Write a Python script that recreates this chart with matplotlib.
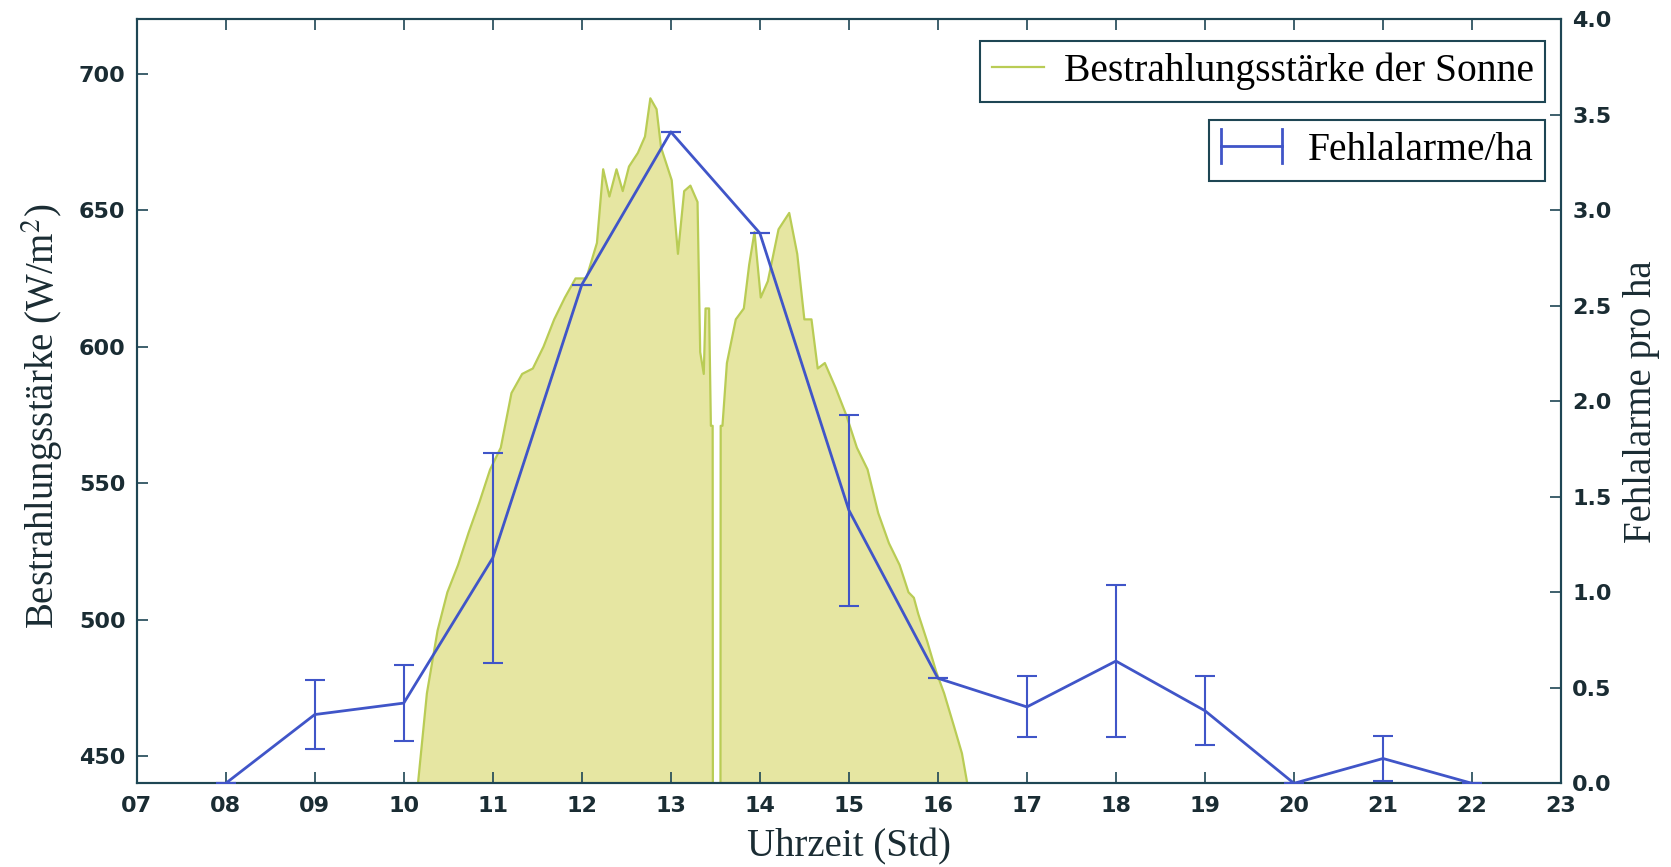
import matplotlib
matplotlib.use("Agg")
import matplotlib.pyplot as plt
from matplotlib.lines import Line2D
from matplotlib.legend_handler import HandlerBase

# Solar irradiance trace (hour of day, W/m^2)
irr_hours = [10.16, 10.26, 10.38, 10.49, 10.61, 10.73, 10.85, 10.97, 11.09, 11.21,
             11.33, 11.45, 11.57, 11.69, 11.81, 11.93, 12.05, 12.17, 12.24, 12.31,
             12.39, 12.46, 12.53, 12.63, 12.71, 12.77, 12.84, 12.89, 13.01, 13.08,
             13.15, 13.22, 13.30, 13.33, 13.37, 13.39, 13.43, 13.45, 13.47, 13.48,
             13.55, 13.56, 13.58, 13.63, 13.73, 13.82, 13.88, 13.94, 14.01, 14.09,
             14.21, 14.33, 14.42, 14.50, 14.58, 14.65, 14.73, 14.85, 14.97, 15.09,
             15.21, 15.33, 15.45, 15.57, 15.67, 15.73, 15.78, 15.88, 15.98, 16.07,
             16.18, 16.27, 16.33]
irr_values = [440, 473, 496, 510, 520, 532, 543, 555, 563, 583,
              590, 592, 600, 610, 618, 625, 625, 638, 665, 655,
              665, 657, 666, 671, 677, 691, 687, 673, 661, 634,
              657, 659, 653, 598, 590, 614, 614, 571, 571, 0,
              0, 571, 571, 594, 610, 614, 630, 642, 618, 624,
              643, 649, 634, 610, 610, 592, 594, 585, 575, 563,
              555, 539, 528, 520, 510, 508, 502, 492, 481, 473,
              461, 451, 440]

# False alarms per hectare, hourly mean and spread
alarm_hours = [8, 9, 10, 11, 12, 13, 14, 15, 16, 17, 18, 19, 20, 21, 22]
alarm_mean = [0.0, 0.36, 0.42, 1.18, 2.61, 3.41, 2.88, 1.43, 0.55, 0.40, 0.64, 0.38, 0.0, 0.13, 0.0]
alarm_err = [0.0, 0.18, 0.20, 0.55, 0.0, 0.0, 0.0, 0.50, 0.0, 0.16, 0.40, 0.18, 0.0, 0.12, 0.0]

x_ticks = list(range(7, 24))
x_labels = [f"{h:02d}" for h in x_ticks]
left_ticks = [450, 500, 550, 600, 650, 700]
right_ticks = [0.0, 0.5, 1.0, 1.5, 2.0, 2.5, 3.0, 3.5, 4.0]

plt.rcParams["mathtext.fontset"] = "stix"
spine_col = "#1e4654"
text_col = "#1a2c33"
fill_col = "#e6e6a2"
edge_col = "#b9cc55"
line_col = "#4055c8"
serif = ["Liberation Serif", "DejaVu Serif"]


class HandlerCappedLine(HandlerBase):
    """Legend key: horizontal line closed by vertical caps at both ends."""

    def create_artists(self, legend, orig_handle, xdescent, ydescent, width,
                       height, fontsize, trans):
        y = height / 2 - ydescent
        x0, x1 = -xdescent, width - xdescent
        half = 0.42 * fontsize
        kw = dict(color=orig_handle.get_color(), linewidth=2, transform=trans)
        return [Line2D([x0, x1], [y, y], **kw),
                Line2D([x0, x0], [y - half, y + half], **kw),
                Line2D([x1, x1], [y - half, y + half], **kw)]


fig = plt.figure(figsize=(16.71, 8.67), dpi=100)
ax = fig.add_axes([0.0818, 0.0965, 0.8524, 0.8814])
ax2 = ax.twinx()

ax.fill_between(irr_hours, irr_values, 0, facecolor=fill_col, edgecolor=edge_col,
                linewidth=1.6, zorder=1)
ax.set_xlim(7, 23)
ax.set_ylim(440, 720)
ax.set_xticks(x_ticks)
ax.set_xticklabels(x_labels)
ax.set_yticks(left_ticks)

ax2.errorbar(alarm_hours, alarm_mean, yerr=alarm_err, color=line_col, linewidth=2,
             elinewidth=1.5, capsize=7, capthick=1.5, zorder=3)
ax2.set_ylim(0, 4.0)
ax2.set_yticks(right_ticks)
ax2.set_yticklabels([f"{v:.1f}" for v in right_ticks])

for a in (ax, ax2):
    for s in a.spines.values():
        s.set_color(spine_col)
        s.set_linewidth(1.5)
ax.tick_params(axis="x", direction="in", top=True, length=8, width=1.2,
               color=spine_col, labelsize=16, labelcolor=text_col, pad=9)
ax.tick_params(axis="y", direction="in", length=8, width=1.2, color=spine_col,
               labelsize=16, labelcolor=text_col, pad=8)
ax2.tick_params(axis="y", direction="in", length=8, width=1.2, color=spine_col,
                labelsize=16, labelcolor=text_col, pad=8)
for lab in ax.get_xticklabels() + ax.get_yticklabels() + ax2.get_yticklabels():
    lab.set_fontweight("bold")

ax.set_xlabel("Uhrzeit (Std)", family=serif, fontsize=28, color=text_col, labelpad=9)
ax.set_ylabel("Bestrahlungsstärke (W/m$^2$)", family=serif, fontsize=28,
              color=text_col, labelpad=10)
ax.yaxis.label.set_y(0.48)
ax2.set_ylabel("Fehlalarme pro ha", family=serif, fontsize=28, color=text_col,
               labelpad=8)

leg_kw = dict(loc="upper right", fancybox=False, framealpha=1, edgecolor=spine_col,
              prop={"family": serif, "size": 28.5}, borderpad=0.3, borderaxespad=0)
leg1 = ax2.legend([Line2D([], [], color=edge_col, linewidth=1.6)],
                  ["Bestrahlungsstärke der Sonne"], bbox_to_anchor=(0.989, 0.972),
                  handlelength=1.3, handletextpad=0.5, **leg_kw)
leg1.get_frame().set_linewidth(1.5)
ax2.add_artist(leg1)
alarm_key = Line2D([], [], color=line_col)
leg2 = ax2.legend([alarm_key], ["Fehlalarme/ha"], bbox_to_anchor=(0.989, 0.868),
                  handlelength=1.55, handletextpad=0.65,
                  handler_map={alarm_key: HandlerCappedLine()}, **leg_kw)
leg2.get_frame().set_linewidth(1.5)

fig.savefig("out.png", dpi=100)
